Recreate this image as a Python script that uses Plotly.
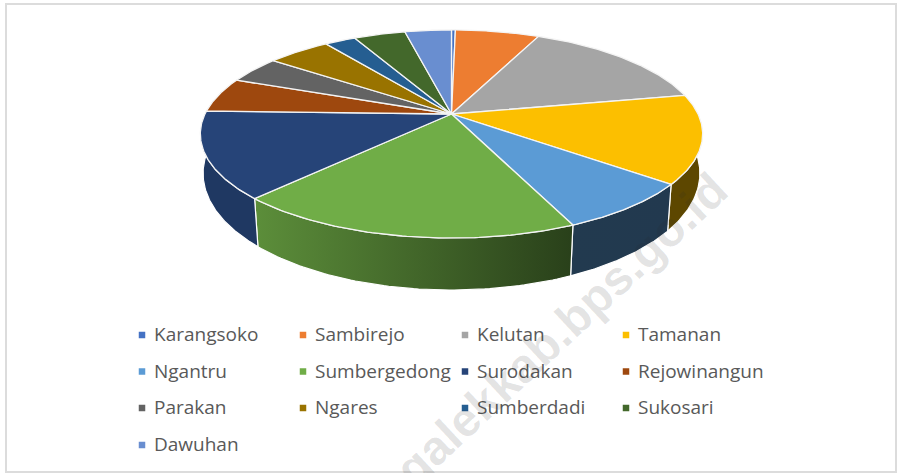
import numpy as np
import plotly.graph_objects as go

categories = ["Karangsoko", "Sambirejo", "Kelutan", "Tamanan", "Ngantru", "Sumbergedong", "Surodakan",
              "Rejowinangun", "Parakan", "Ngares", "Sumberdadi", "Sukosari", "Dawuhan"]
values = [0.3, 6.5, 15.1, 13.7, 7.7, 18.7, 13.4, 5.4, 4.2, 4.9, 2.4, 4.0, 3.6]
colors = ["#4472c4", "#ed7d31", "#a5a5a5", "#fcbf00", "#5b9bd5", "#70ad47", "#264478",
          "#9e480e", "#636363", "#997300", "#255e91", "#43682b", "#698ed0"]

CX, CY = 451.5, 114.0
A, B, K = 246.5, 100.2, 0.192


def top(theta):
    X, Y = np.sin(theta), np.cos(theta)
    w = 1 + K * Y
    return CX + A * X / w, CY - B * Y / w


def low(theta):
    x, y = top(theta)
    scale = 0.991 + 0.011 * np.cos(theta)
    return CX + scale * (x - CX), y + 38 - 14 * np.cos(theta)


def shade(hex_color, f):
    r, g, b = [int(hex_color[i:i + 2], 16) for i in (1, 3, 5)]
    return f"rgb({r * f:.0f},{g * f:.0f},{b * f:.0f})"


def factor(x):
    return float(np.interp(x, [261, 572], [0.82, 0.37]))


edges = np.cumsum([0] + values) / sum(values) * 2 * np.pi
fig = go.Figure()

# side walls
for name, col, a0, a1 in zip(categories, colors, edges[:-1], edges[1:]):
    lo, hi = max(a0, np.radians(80)), min(a1, np.radians(280))
    if lo >= hi:
        continue
    t = np.linspace(lo, hi, 70)
    ux, uy = top(t)
    lx, ly = low(t)
    xs = np.r_[ux, lx[::-1], ux[0]]
    ys = np.r_[uy, ly[::-1], uy[0]]
    x_min, x_max = xs.min(), xs.max()
    fig.add_trace(go.Scatter(
        x=xs, y=ys, mode="lines", fill="toself", hoverinfo="skip", showlegend=False,
        line=dict(color="white", width=1.2),
        fillgradient=dict(type="horizontal", colorscale=[[0, shade(col, factor(x_min))],
                                                         [1, shade(col, factor(x_max))]]),
    ))

# top faces
for name, col, a0, a1 in zip(categories, colors, edges[:-1], edges[1:]):
    t = np.linspace(a0, a1, 80)
    x, y = top(t)
    fig.add_trace(go.Scatter(
        x=np.r_[CX, x, CX], y=np.r_[CY, y, CY], mode="lines", fill="toself", fillcolor=col,
        line=dict(color="#f4f4f4", width=1.3), name=name, showlegend=False, hoveron="fills",
    ))

# legend grid
col_x = [142, 303, 465, 626]
row_y = [335, 371.5, 408, 445]
mx = [col_x[i % 4] for i in range(len(categories))]
my = [row_y[i // 4] for i in range(len(categories))]
fig.add_trace(go.Scatter(x=mx, y=my, mode="markers", hoverinfo="skip", showlegend=False,
                         marker=dict(symbol="square", size=6.5, color=colors, line=dict(width=0))))
fig.add_trace(go.Scatter(x=[v + 12 for v in mx], y=[v + 1.5 for v in my], mode="text", text=categories,
                         hoverinfo="skip", showlegend=False, textposition="middle right",
                         textfont=dict(family="Open Sans", size=19, color="#595959")))

fig.update_layout(
    width=897, height=473, margin=dict(l=0, r=0, t=0, b=0), paper_bgcolor="white", plot_bgcolor="white",
    xaxis=dict(range=[0, 897], visible=False, fixedrange=True),
    yaxis=dict(range=[473, 0], visible=False, fixedrange=True),
    shapes=[dict(type="rect", xref="x", yref="y", x0=6, y0=4, x1=896, y1=472,
                 line=dict(color="#dcdcdc", width=2), layer="below")],
    annotations=[dict(text="<b>galekkab.bps.go.id</b>", xref="x", yref="y", x=561, y=329, showarrow=False,
                      textangle=-43, font=dict(family="Liberation Sans", size=48, color="rgba(40,40,40,0.13)"))],
)
fig.write_html("out.html", config={"displayModeBar": False},
               post_script="document.body.style.margin='0';")
